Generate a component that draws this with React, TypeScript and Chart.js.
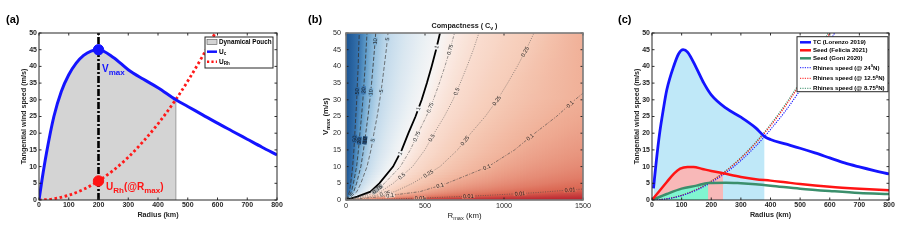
import React, { useEffect, useRef } from 'react';
import { Chart, registerables } from 'chart.js';

Chart.register(...registerables);

const FONT = '"Liberation Sans", Arial, Helvetica, sans-serif';

// ================= Panel (a) =================
const radiusA = [0, 10, 25, 50, 75, 100, 125, 150, 175, 200, 250, 300, 350, 400, 460, 500, 550, 600, 650, 700, 750, 800];
const ucA = [0, 6, 14, 25, 32.5, 37.5, 41, 43.3, 44.6, 45, 42.7, 39, 36.2, 33.6, 30, 28, 25.5, 23, 20.6, 18.2, 15.8, 13.5];
const radiusRhA = [0, 50, 100, 150, 200, 250, 300, 350, 400, 460, 500, 550, 600];
const uRhA = [0, 0.36, 1.43, 3.2, 5.7, 8.9, 12.8, 17.5, 22.8, 30.1, 35.6, 43.1, 51.3];
const pouchEdgeA = 460;
const pouchEdgeSpeedA = 30;
const rmaxA = 200;
const vmaxA = 45;
const uRhAtRmaxA = 5.7;

// ================= Panel (b) =================
const vGridB = [0, 1, 2.5, 5, 10, 15, 20, 25, 30, 35, 40, 45, 50];
const cv50R = [0, 10, 22, 30, 42, 50, 56, 62, 68, 72, 77, 80, 84];
const cv20R = [0, 16, 35, 47, 67, 79, 88, 98, 107, 114, 121, 127, 133];
const cv10R = [0, 23, 49, 67, 94, 111, 125, 139, 151, 162, 171, 180, 188];
const cv5R = [0, 32, 69, 94, 133, 158, 177, 197, 214, 229, 242, 255, 266];
const cv1R = [0, 71, 155, 211, 298, 353, 395, 440, 479, 512, 542, 570, 595];
const cv075R = [0, 82, 179, 244, 344, 407, 456, 508, 553, 591, 626, 658, 687];
const cv05R = [0, 101, 219, 299, 421, 499, 558, 622, 677, 723, 766, 806, 841];
const cv025R = [0, 143, 309, 422, 595, 706, 790, 881, 958, 1023, 1084, 1140, 1190];
const cv01R = [0, 216, 468, 639, 900, 1067, 1195, 1332, 1449, 1500];
const cv01V = [0, 1, 2.5, 5, 10, 15, 20, 25, 30, 32];
const cv001R = [0, 300, 600, 900, 1200, 1500];
const cv001V = [0, 0.3, 0.8, 1.4, 2.2, 3.3];
const labelLevelsB = ['50', '50', '20', '20', '10', '10', '10', '5', '5', '5', '1', '1', '1', '0.75', '0.75', '0.75', '0.75', '0.5', '0.5', '0.5', '0.25', '0.25', '0.25', '0.25', '0.25', '0.1', '0.1', '0.1', '0.1', '0.1', '0.01', '0.01', '0.01', '0.01'];
const labelRadiiB = [70, 54, 111, 84, 184, 156, 119, 262, 222, 169, 574, 458, 342, 658, 532, 447, 198, 700, 542, 352, 1133, 954, 753, 521, 247, 1418, 1165, 891, 595, 279, 1418, 1101, 774, 468];

// ================= Panel (c) =================
const radiusTC = [5, 15, 25, 38, 50, 75, 90, 105, 120, 150, 175, 200, 250, 300, 350, 380, 400, 450, 500, 550, 600, 650, 700, 750, 800];
const tcLorenzo = [3.5, 12, 19.5, 27, 33, 40.5, 43.8, 45, 44.3, 39.5, 35, 31.5, 27.5, 24.8, 21.6, 19, 18.1, 16.8, 15.5, 14.1, 12.6, 11.1, 9.9, 8.8, 7.8];
const radiusFel = [0, 25, 50, 75, 95, 120, 140, 170, 200, 240, 300, 350, 400, 450, 500, 600, 700, 800];
const seedFelicia = [0, 2.7, 5.4, 8.0, 9.4, 9.9, 9.9, 9.3, 8.7, 8.0, 6.9, 6.2, 5.8, 5.3, 4.8, 4.0, 3.4, 2.9];
const radiusGoni = [0, 50, 100, 150, 190, 250, 300, 350, 400, 500, 600, 700, 800];
const seedGoni = [0, 1.8, 3.4, 4.3, 5.1, 5.2, 5.0, 4.7, 4.3, 3.4, 2.7, 2.1, 1.8];
const radiusRh24 = [0, 50, 100, 150, 200, 250, 300, 350, 380, 400, 450, 500, 550, 600, 625];
const rhines24 = [0, 0.33, 1.32, 2.96, 5.26, 8.2, 11.8, 16.1, 19, 21.1, 26.6, 32.9, 39.8, 47.4, 51.4];
const radiusRh125 = [0, 50, 100, 150, 200, 240, 300, 350, 400, 450, 500, 550, 600];
const rhines125 = [0, 0.35, 1.39, 3.1, 5.6, 8.0, 12.5, 17, 22.2, 28.1, 34.7, 42, 50];
const radiusRh875 = [0, 50, 100, 150, 190, 250, 300, 350, 400, 450, 500, 550, 600];
const rhines875 = [0, 0.35, 1.41, 3.18, 5.1, 8.83, 12.7, 17.3, 22.6, 28.6, 35.3, 42.7, 50.9];
const pouchTC = 380;
const pouchFel = 240;
const pouchGoni = 190;

const panelLabels = ['(a)', '(b)', '(c)'];

type Pt = { x: number; y: number };
const pts = (xs: number[], ys: number[]): Pt[] => xs.map((x, i) => ({ x, y: ys[i] }));

type Seg = [string, number]; // 0 normal, 1 subscript, 2 superscript
function drawRich(ctx: CanvasRenderingContext2D, segs: Seg[], x: number, y: number, size: number, weight: string, color: string, subSize: number, align: 'left' | 'center' = 'left') {
  ctx.save();
  ctx.fillStyle = color;
  ctx.textBaseline = 'alphabetic';
  ctx.textAlign = 'left';
  let w = 0;
  for (const [t, k] of segs) {
    ctx.font = `${weight} ${k ? subSize : size}px ${FONT}`;
    w += ctx.measureText(t).width;
  }
  let cx = align === 'center' ? x - w / 2 : x;
  for (const [t, k] of segs) {
    ctx.font = `${weight} ${k ? subSize : size}px ${FONT}`;
    const dy = k === 1 ? size * 0.3 : k === 2 ? -size * 0.42 : 0;
    ctx.fillText(t, cx, y + dy);
    cx += ctx.measureText(t).width;
  }
  ctx.restore();
}

function framePlugin(color: string, lw: number, tick: number) {
  return {
    id: 'frameTicks',
    afterDatasetsDraw(chart: any) {
      const { ctx, chartArea: a } = chart;
      const xs = chart.scales.x;
      const ys = chart.scales.y;
      ctx.save();
      ctx.strokeStyle = '#1a1a1a';
      ctx.lineWidth = 0.9;
      ctx.beginPath();
      xs.ticks.forEach((t: any) => {
        const p = xs.getPixelForValue(t.value);
        ctx.moveTo(p, a.bottom); ctx.lineTo(p, a.bottom - tick);
        ctx.moveTo(p, a.top); ctx.lineTo(p, a.top + tick);
      });
      ys.ticks.forEach((t: any) => {
        const p = ys.getPixelForValue(t.value);
        ctx.moveTo(a.left, p); ctx.lineTo(a.left + tick, p);
        ctx.moveTo(a.right, p); ctx.lineTo(a.right - tick, p);
      });
      ctx.stroke();
      ctx.strokeStyle = color;
      ctx.lineWidth = lw;
      ctx.strokeRect(a.left, a.top, a.right - a.left, a.bottom - a.top);
      ctx.restore();
    },
  };
}

function scale(min: number, max: number, step: number, fontSize: number, weight: string, pad: number, fit: (s: any) => void, title?: any) {
  return {
    type: 'linear',
    min,
    max,
    ticks: { stepSize: step, font: { family: FONT, size: fontSize, weight }, color: '#262626', padding: pad, maxRotation: 0, autoSkip: false, callback: (v: any) => String(v) },
    grid: { display: false, drawTicks: false },
    border: { display: false },
    title: title || { display: false },
    afterFit: fit,
  };
}

const lineBase = { showLine: true, pointRadius: 0, fill: false };

function configA(): any {
  const ucPts = pts(radiusA, ucA);
  return {
    type: 'scatter',
    data: {
      datasets: [
        { ...lineBase, data: [{ x: rmaxA, y: vmaxA }], showLine: false, pointRadius: 5.2, backgroundColor: '#1414ff', borderColor: '#1414ff', order: 0 },
        { ...lineBase, data: [{ x: rmaxA, y: uRhAtRmaxA }], showLine: false, pointRadius: 5.2, backgroundColor: '#ff1414', borderColor: '#ff1414', order: 0 },
        { ...lineBase, data: ucPts, borderColor: '#1414ff', borderWidth: 3, cubicInterpolationMode: 'monotone', order: 1 },
        { ...lineBase, data: [{ x: rmaxA, y: 0 }, { x: rmaxA, y: 50 }], borderColor: '#000', borderWidth: 2.6, borderDash: [7, 2, 2, 2], order: 2 },
        { ...lineBase, data: pts(radiusRhA, uRhA), borderColor: '#ff1a1a', borderWidth: 2.8, borderDash: [2.6, 2.6], cubicInterpolationMode: 'monotone', order: 3 },
        { ...lineBase, data: [{ x: pouchEdgeA, y: 0 }, { x: pouchEdgeA, y: pouchEdgeSpeedA }], borderColor: '#9a9a9a', borderWidth: 1, order: 9 },
        { ...lineBase, data: ucPts.filter((p) => p.x <= pouchEdgeA), fill: 'origin', backgroundColor: '#d4d4d4', borderColor: 'rgba(0,0,0,0)', borderWidth: 0, cubicInterpolationMode: 'monotone', order: 10 },
      ],
    },
    options: {
      responsive: false,
      animation: false,
      events: [],
      layout: { padding: { left: 0, right: 23, top: 33, bottom: 0 } },
      plugins: { legend: { display: false }, tooltip: { enabled: false } },
      scales: {
        x: scale(0, 800, 100, 7, 'bold', 1, (s: any) => { s.height = 41; }, { display: true, text: 'Radius (km)', color: '#262626', font: { family: FONT, size: 7.2, weight: 'bold' }, padding: { top: 0, bottom: 21.5 } }),
        y: scale(0, 50, 5, 7, 'bold', 2, (s: any) => { s.width = 39; }, { display: true, text: 'Tangential wind speed (m/s)', color: '#262626', font: { family: FONT, size: 7.2, weight: 'bold' }, padding: { top: 19.8, bottom: 0 } }),
      },
    },
    plugins: [
      framePlugin('#262626', 1, 2.5),
      {
        id: 'annotA',
        afterDraw(chart: any) {
          const ctx = chart.ctx;
          const xs = chart.scales.x;
          const ys = chart.scales.y;
          const a = chart.chartArea;
          ctx.save();
          ctx.fillStyle = '#000';
          ctx.font = `bold 11px ${FONT}`;
          ctx.textBaseline = 'alphabetic';
          ctx.fillText(panelLabels[0], 6, 23);
          ctx.restore();
          const vx = xs.getPixelForValue(rmaxA);
          const vy = ys.getPixelForValue(vmaxA);
          drawRich(ctx, [['V', 0], ['max', 1]], vx + 3.5, vy + 22, 10, 'bold', '#1414ff', 8);
          const uy = ys.getPixelForValue(uRhAtRmaxA);
          drawRich(ctx, [['U', 0], ['Rh', 1], ['(@R', 0], ['max', 1], [')', 0]], vx + 7.5, uy + 9, 10, 'bold', '#ff1414', 8);
          const L = a.right - 72;
          const T = a.top + 4;
          ctx.save();
          ctx.fillStyle = '#fff';
          ctx.fillRect(L, T, 68, 31);
          ctx.strokeStyle = '#262626';
          ctx.lineWidth = 1;
          ctx.strokeRect(L, T, 68, 31);
          ctx.fillStyle = '#d4d4d4';
          ctx.fillRect(L + 2, T + 2.5, 10, 5);
          ctx.strokeStyle = '#555';
          ctx.lineWidth = 0.6;
          ctx.strokeRect(L + 2, T + 2.5, 10, 5);
          ctx.strokeStyle = '#1414ff';
          ctx.lineWidth = 2.5;
          ctx.beginPath(); ctx.moveTo(L + 2, T + 14.7); ctx.lineTo(L + 12, T + 14.7); ctx.stroke();
          ctx.strokeStyle = '#ff1414';
          ctx.setLineDash([2.2, 2.2]);
          ctx.beginPath(); ctx.moveTo(L + 2, T + 24.7); ctx.lineTo(L + 12, T + 24.7); ctx.stroke();
          ctx.restore();
          drawRich(ctx, [['Dynamical Pouch', 0]], L + 14, T + 7.3, 6.3, 'bold', '#000', 5);
          drawRich(ctx, [['U', 0], ['c', 1]], L + 14, T + 16.5, 6.5, 'bold', '#000', 4.5);
          drawRich(ctx, [['U', 0], ['Rh', 1]], L + 14, T + 26.5, 6.5, 'bold', '#000', 4.5);
        },
      },
    ],
  };
}

function hexToRgb(h: string): number[] {
  const n = parseInt(h.slice(1), 16);
  return [(n >> 16) & 255, (n >> 8) & 255, n & 255];
}
function mixRgb(c0: number[], c1: number[], f: number): string {
  const m = (i: number) => Math.round(c0[i] + (c1[i] - c0[i]) * f);
  return `rgb(${m(0)},${m(1)},${m(2)})`;
}

function configB(): any {
  // ordered from lowest to highest level
  const contours = [
    { level: '0.01', pts: pts(cv001R, cv001V), col: '#da6551', line: '#444', width: 0.6, dash: [1, 1.4] },
    { level: '0.1', pts: pts(cv01R, cv01V), col: '#f0b098', line: '#444', width: 0.6, dash: [3, 1.4, 1, 1.4] },
    { level: '0.25', pts: pts(cv025R, vGridB), col: '#f6cbb7', line: '#555', width: 0.6, dash: [1, 1.4] },
    { level: '0.5', pts: pts(cv05R, vGridB), col: '#f9ddd0', line: '#555', width: 0.6, dash: [1, 1.4] },
    { level: '0.75', pts: pts(cv075R, vGridB), col: '#faebe4', line: '#555', width: 0.6, dash: [3, 1.4, 1, 1.4] },
    { level: '1', pts: pts(cv1R, vGridB), col: '#f6f6f6', line: '#000', width: 1.8, dash: [] as number[] },
    { level: '5', pts: pts(cv5R, vGridB), col: '#c0d9eb', line: '#444', width: 0.7, dash: [4, 2] },
    { level: '10', pts: pts(cv10R, vGridB), col: '#92bedd', line: '#333', width: 0.8, dash: [4, 2] },
    { level: '20', pts: pts(cv20R, vGridB), col: '#5e9bc9', line: '#333', width: 0.8, dash: [4, 2] },
    { level: '50', pts: pts(cv50R, vGridB), col: '#3673ae', line: '#333', width: 0.8, dash: [4, 2] },
  ];
  const baseColor = '#b8202e';
  const leftColor = '#1a5391';
  const byLevel: Record<string, any> = {};
  contours.forEach((c) => { byLevel[c.level] = c; });
  const interpV = (p: Pt[], r: number) => {
    if (r >= p[p.length - 1].x) return p[p.length - 1].y;
    let i = 1;
    while (i < p.length - 1 && p[i].x < r) i++;
    const p0 = p[i - 1];
    const p1 = p[i];
    return p0.y + ((r - p0.x) / (p1.x - p0.x)) * (p1.y - p0.y);
  };
  const lerp = (p: Pt, q: Pt, u: number): Pt => ({ x: p.x + (q.x - p.x) * u, y: p.y + (q.y - p.y) * u });
  return {
    type: 'scatter',
    data: {
      datasets: contours.map((c) => ({ ...lineBase, data: c.pts, borderColor: c.line, borderWidth: c.width, borderDash: c.dash, tension: 0 })),
    },
    options: {
      responsive: false,
      animation: false,
      events: [],
      layout: { padding: { left: 0, right: 17, top: 33, bottom: 0 } },
      plugins: { legend: { display: false }, tooltip: { enabled: false } },
      scales: {
        x: scale(0, 1500, 500, 7.2, 'normal', 2, (s: any) => { s.height = 41; }),
        y: scale(0, 50, 5, 7.2, 'normal', 5, (s: any) => { s.width = 46; }),
      },
    },
    plugins: [
      {
        id: 'bands',
        beforeDatasetsDraw(chart: any) {
          const { ctx, chartArea: a } = chart;
          const xs = chart.scales.x;
          const ys = chart.scales.y;
          const X = (v: number) => xs.getPixelForValue(v);
          const Y = (v: number) => ys.getPixelForValue(v);
          ctx.save();
          ctx.beginPath();
          ctx.rect(a.left, a.top, a.right - a.left, a.bottom - a.top);
          ctx.clip();
          ctx.fillStyle = baseColor;
          ctx.fillRect(a.left - 20, a.top - 20, a.right - a.left + 40, a.bottom - a.top + 40);
          ctx.filter = 'blur(2px)';
          contours.forEach((c, k) => {
            ctx.beginPath();
            c.pts.forEach((p: Pt, i: number) => {
              if (i === 0) ctx.moveTo(X(p.x), Y(p.y) + 1); else ctx.lineTo(X(p.x), Y(p.y));
            });
            const last = c.pts[c.pts.length - 1];
            if (last.x >= 1500) {
              ctx.lineTo(a.right + 20, Y(last.y));
              ctx.lineTo(a.right + 20, a.top - 20);
            } else {
              ctx.lineTo(X(last.x) + (X(last.x) - X(c.pts[c.pts.length - 2].x)) * 0.5, a.top - 20);
            }
            ctx.lineTo(a.left - 20, a.top - 20);
            ctx.lineTo(a.left - 20, a.bottom + 1);
            ctx.closePath();
            ctx.fillStyle = k === contours.length - 1 ? leftColor : c.col;
            ctx.fill();
          });
          ctx.filter = 'none';
          const quad = (q: Pt[], g0: number[], g1: number[], c0: string, c1: string, s0: number, s1: number) => {
            if (Math.hypot(g1[0] - g0[0], g1[1] - g0[1]) < 0.05) return;
            const r0 = hexToRgb(c0);
            const r1 = hexToRgb(c1);
            const g = ctx.createLinearGradient(g0[0], g0[1], g1[0], g1[1]);
            const logOk = s0 > 0 && s1 > 0 && Math.abs(s1 / s0 - 1) > 0.01;
            for (let k = 0; k <= 8; k++) {
              const t = k / 8;
              const f = logOk ? Math.log((s0 + t * (s1 - s0)) / s0) / Math.log(s1 / s0) : t;
              g.addColorStop(t, mixRgb(r0, r1, f));
            }
            ctx.beginPath();
            ctx.moveTo(X(q[0].x), Y(q[0].y));
            for (let i = 1; i < q.length; i++) ctx.lineTo(X(q[i].x), Y(q[i].y));
            ctx.closePath();
            ctx.fillStyle = g;
            ctx.fill();
          };
          const mid = (p: Pt, q: Pt) => [(X(p.x) + X(q.x)) / 2, (Y(p.y) + Y(q.y)) / 2];
          const SUB = 6;
          const OV = 0.8;
          for (let k = 1; k < contours.length - 1; k++) {
            const A = contours[k];
            const B = contours[k + 1];
            for (let i = 0; i < B.pts.length - 1; i++) {
              const sameGrid = i + 1 < A.pts.length && A.pts[i + 1].y === B.pts[i + 1].y;
              const A0 = sameGrid ? A.pts[i] : { x: 1500, y: B.pts[i].y };
              const A1 = sameGrid ? A.pts[i + 1] : { x: 1500, y: B.pts[i + 1].y };
              for (let s = 0; s < SUB; s++) {
                const a0 = lerp(A0, A1, s / SUB);
                const a1 = lerp(A0, A1, (s + 1 + OV) / SUB);
                const b0 = lerp(B.pts[i], B.pts[i + 1], s / SUB);
                const b1 = lerp(B.pts[i], B.pts[i + 1], (s + 1 + OV) / SUB);
                quad([a0, a1, b1, b0], mid(b0, b1), mid(a0, a1), B.col, A.col, (b0.x + b1.x) / 2, (a0.x + a1.x) / 2);
              }
            }
          }
          const lo = contours[0];
          const hi = contours[1];
          const NR = 75;
          const dr = 1500 / NR;
          for (let j = 0; j < NR; j++) {
            const r0 = dr * j;
            const r1 = Math.min(dr * (j + 1 + OV), 1500);
            const a0 = { x: r0, y: interpV(lo.pts, r0) };
            const a1 = { x: r1, y: interpV(lo.pts, r1) };
            const b0 = { x: r0, y: interpV(hi.pts, r0) };
            const b1 = { x: r1, y: interpV(hi.pts, r1) };
            const mx = (X(r0) + X(r1)) / 2;
            quad([a0, a1, b1, b0], [mx, (Y(b0.y) + Y(b1.y)) / 2], [mx, (Y(a0.y) + Y(a1.y)) / 2], hi.col, lo.col, (b0.y + b1.y) / 2, (a0.y + a1.y) / 2);
            quad([{ x: r0, y: 0 }, { x: r1, y: 0 }, a1, a0], [mx, (Y(a0.y) + Y(a1.y)) / 2], [mx, a.bottom], lo.col, baseColor, 0, 0);
          }
          const top = contours[contours.length - 1];
          for (let i = 0; i < top.pts.length - 1; i++) {
            for (let s = 0; s < SUB; s++) {
              const p0 = lerp(top.pts[i], top.pts[i + 1], s / SUB);
              const p1 = lerp(top.pts[i], top.pts[i + 1], (s + 1 + OV) / SUB);
              const ym = (Y(p0.y) + Y(p1.y)) / 2;
              quad([{ x: 0, y: p0.y }, p0, p1, { x: 0, y: p1.y }], [a.left, ym], [(X(p0.x) + X(p1.x)) / 2, ym], leftColor, top.col, 0, 0);
            }
          }
          ctx.restore();
        },
        afterDatasetsDraw(chart: any) {
          const { ctx, chartArea: a } = chart;
          const xs = chart.scales.x;
          const ys = chart.scales.y;
          const dpr = chart.currentDevicePixelRatio || 1;
          ctx.save();
          ctx.beginPath();
          ctx.rect(a.left, a.top, a.right - a.left, a.bottom - a.top);
          ctx.clip();
          ctx.font = `5.5px ${FONT}`;
          ctx.textAlign = 'center';
          ctx.textBaseline = 'middle';
          labelLevelsB.forEach((lv, k) => {
            const c = byLevel[lv];
            const r = labelRadiiB[k];
            const p = c.pts;
            let i = 1;
            while (i < p.length - 1 && p[i].x < r) i++;
            const p0 = p[i - 1];
            const p1 = p[i];
            const v = interpV(p, r);
            const px = xs.getPixelForValue(r);
            const py = ys.getPixelForValue(v);
            const ang = Math.atan2(ys.getPixelForValue(p1.y) - ys.getPixelForValue(p0.y), xs.getPixelForValue(p1.x) - xs.getPixelForValue(p0.x));
            // sample the colour just on the upper/left side of the contour
            const sx = Math.min(Math.max(px + Math.sin(ang) * 4.5, a.left + 1), a.right - 1);
            const sy = Math.min(Math.max(py - Math.cos(ang) * 4.5, a.top + 1), a.bottom - 1);
            const d = ctx.getImageData(Math.round(sx * dpr), Math.round(sy * dpr), 1, 1).data;
            const w = ctx.measureText(lv).width;
            ctx.save();
            ctx.translate(px, py);
            ctx.rotate(ang);
            ctx.fillStyle = `rgb(${d[0]},${d[1]},${d[2]})`;
            ctx.fillRect(-w / 2 - 1, -2.2, w + 2, 4.4);
            ctx.fillStyle = '#1a1a1a';
            ctx.fillText(lv, 0, 0.3);
            ctx.restore();
          });
          ctx.restore();
        },
      },
      framePlugin('#7a7a7a', 1.6, 2.5),
      {
        id: 'annotB',
        afterDraw(chart: any) {
          const ctx = chart.ctx;
          const a = chart.chartArea;
          const cx = (a.left + a.right) / 2;
          ctx.save();
          ctx.fillStyle = '#000';
          ctx.font = `bold 11px ${FONT}`;
          ctx.textBaseline = 'alphabetic';
          ctx.fillText(panelLabels[1], 8, 23);
          ctx.restore();
          drawRich(ctx, [['Compactness ( C', 0], ['v', 1], [' )', 0]], cx, 27.5, 7.2, 'bold', '#1a1a1a', 5.2, 'center');
          drawRich(ctx, [['R', 0], ['max', 1], [' (km)', 0]], cx, 217.5, 7.8, 'normal', '#1a1a1a', 5.6, 'center');
          ctx.save();
          ctx.translate(25, (a.top + a.bottom) / 2);
          ctx.rotate(-Math.PI / 2);
          drawRich(ctx, [['V', 0], ['max', 1], [' (m/s)', 0]], 0, 2.6, 7.8, 'bold', '#1a1a1a', 5.6, 'center');
          ctx.restore();
        },
      },
    ],
  };
}

function configC(): any {
  const tc = pts(radiusTC, tcLorenzo);
  const fel = pts(radiusFel, seedFelicia);
  const goni = pts(radiusGoni, seedGoni);
  const curve = { ...lineBase, cubicInterpolationMode: 'monotone' };
  const fillDs = (data: Pt[], color: string, order: number) => ({ ...curve, data, fill: 'origin', backgroundColor: color, borderColor: 'rgba(0,0,0,0)', borderWidth: 0, order });
  return {
    type: 'scatter',
    data: {
      datasets: [
        { ...curve, data: tc, borderColor: '#1414ff', borderWidth: 2.8, order: 1 },
        { ...curve, data: fel, borderColor: '#ff1414', borderWidth: 2.5, order: 2 },
        { ...curve, data: goni, borderColor: '#3b8f6c', borderWidth: 2.5, order: 3 },
        { ...curve, data: pts(radiusRh24, rhines24), borderColor: '#1414ff', borderWidth: 1.1, borderDash: [1.2, 1.2], order: 4 },
        { ...curve, data: pts(radiusRh125, rhines125), borderColor: '#ff1414', borderWidth: 1.1, borderDash: [1.2, 1.2], order: 5 },
        { ...curve, data: pts(radiusRh875, rhines875), borderColor: '#3b8f6c', borderWidth: 1.1, borderDash: [1.2, 1.2], order: 6 },
        fillDs(goni.filter((p) => p.x <= pouchGoni), '#80f5d0', 7),
        fillDs(fel.filter((p) => p.x <= pouchFel), '#f8b8b8', 8),
        fillDs(tc.filter((p) => p.x <= pouchTC), '#bfe8f8', 9),
      ],
    },
    options: {
      responsive: false,
      animation: false,
      events: [],
      layout: { padding: { left: 0, right: 30, top: 33, bottom: 0 } },
      plugins: { legend: { display: false }, tooltip: { enabled: false } },
      scales: {
        x: scale(0, 800, 100, 7, 'bold', 1, (s: any) => { s.height = 41; }, { display: true, text: 'Radius (km)', color: '#262626', font: { family: FONT, size: 7.2, weight: 'bold' }, padding: { top: 0, bottom: 21.5 } }),
        y: scale(0, 50, 5, 7, 'bold', 2, (s: any) => { s.width = 52; }, { display: true, text: 'Tangential wind speed (m/s)', color: '#262626', font: { family: FONT, size: 7.2, weight: 'bold' }, padding: { top: 32.5, bottom: 0 } }),
      },
    },
    plugins: [
      framePlugin('#262626', 1, 2.5),
      {
        id: 'annotC',
        afterDraw(chart: any) {
          const ctx = chart.ctx;
          const a = chart.chartArea;
          ctx.save();
          ctx.fillStyle = '#000';
          ctx.font = `bold 11px ${FONT}`;
          ctx.textBaseline = 'alphabetic';
          ctx.fillText(panelLabels[2], 18, 23);
          const L = a.right - 92;
          const T = a.top + 3.7;
          ctx.fillStyle = '#fff';
          ctx.fillRect(L, T, 91, 55);
          ctx.strokeStyle = '#262626';
          ctx.lineWidth = 1;
          ctx.strokeRect(L, T, 91, 55);
          const rows = [
            { y: 5.6, c: '#1414ff', w: 2.5, dash: [] as number[] },
            { y: 13.6, c: '#ff1414', w: 2.5, dash: [] },
            { y: 21.6, c: '#3b8f6c', w: 2.5, dash: [] },
            { y: 31, c: '#1414ff', w: 1, dash: [1.2, 1.2] },
            { y: 41.6, c: '#ff1414', w: 1, dash: [1.2, 1.2] },
            { y: 51.6, c: '#3b8f6c', w: 1, dash: [1.2, 1.2] },
          ];
          rows.forEach((r) => {
            ctx.strokeStyle = r.c;
            ctx.lineWidth = r.w;
            ctx.setLineDash(r.dash);
            ctx.beginPath();
            ctx.moveTo(L + 3, T + r.y);
            ctx.lineTo(L + 14, T + r.y);
            ctx.stroke();
          });
          ctx.restore();
          const tx = L + 16;
          drawRich(ctx, [['TC (Lorenzo 2019)', 0]], tx, T + 7.6, 6.1, 'bold', '#000', 4.5);
          drawRich(ctx, [['Seed (Felicia 2021)', 0]], tx, T + 15.6, 6.1, 'bold', '#000', 4.5);
          drawRich(ctx, [['Seed (Goni 2020)', 0]], tx, T + 23.6, 6.1, 'bold', '#000', 4.5);
          drawRich(ctx, [['Rhines speed (@ 24', 0], ['0', 2], ['N)', 0]], tx, T + 33, 6.1, 'bold', '#000', 4.2);
          drawRich(ctx, [['Rhines speed (@ 12.5', 0], ['0', 2], ['N)', 0]], tx, T + 43.6, 6.1, 'bold', '#000', 4.2);
          drawRich(ctx, [['Rhines speed (@ 8.75', 0], ['0', 2], ['N)', 0]], tx, T + 53.6, 6.1, 'bold', '#000', 4.2);
        },
      },
    ],
  };
}

export default function App() {
  const refA = useRef<HTMLCanvasElement>(null);
  const refB = useRef<HTMLCanvasElement>(null);
  const refC = useRef<HTMLCanvasElement>(null);
  useEffect(() => {
    const charts = [
      new Chart(refA.current as HTMLCanvasElement, configA()),
      new Chart(refB.current as HTMLCanvasElement, configB()),
      new Chart(refC.current as HTMLCanvasElement, configC()),
    ];
    return () => charts.forEach((c) => c.destroy());
  }, []);
  const cs = (left: number, w: number): React.CSSProperties => ({ position: 'absolute', left, top: 0, width: w, height: 241 });
  return (
    <div style={{ position: 'absolute', left: 0, top: 0, width: 919, height: 241, background: '#fff', overflow: 'hidden' }}>
      <canvas ref={refA} width={300} height={241} style={cs(0, 300)} />
      <canvas ref={refB} width={300} height={241} style={cs(300, 300)} />
      <canvas ref={refC} width={319} height={241} style={cs(600, 319)} />
    </div>
  );
}
